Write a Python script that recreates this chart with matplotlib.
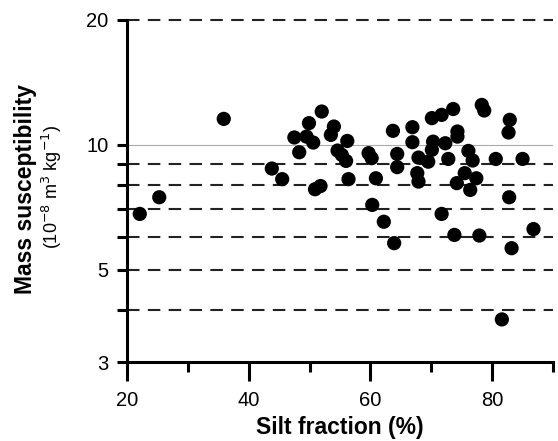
import matplotlib
matplotlib.use("Agg")
import matplotlib.pyplot as plt
from matplotlib.ticker import FixedLocator, NullFormatter

plt.rcParams['font.family'] = ['Liberation Sans', 'DejaVu Sans']

# silt fraction (%) and mass susceptibility (1e-8 m3/kg)
silt = [22.1, 25.3, 35.9, 43.8, 45.5, 47.5, 48.3, 49.9, 49.5, 50.6,
        50.9, 51.8, 52.0, 54.0, 53.5, 56.2, 54.6, 55.3, 56.0, 56.4,
        59.7, 60.2, 60.9, 60.3, 62.2, 63.9, 63.7, 64.4, 64.4, 66.9,
        66.9, 67.9, 67.7, 67.9, 69.5, 70.1, 71.7, 73.6, 70.3, 70.1,
        72.3, 74.3, 74.3, 72.8, 76.1, 76.8, 75.5, 77.4, 74.2, 76.4,
        78.3, 78.7, 80.6, 85.0, 82.9, 82.7, 82.8, 71.7, 73.8, 77.9,
        86.8, 83.2, 81.6]
chi = [6.82, 7.48, 11.55, 8.77, 8.27, 10.42, 9.60, 11.28, 10.47, 10.13,
       7.82, 7.96, 12.03, 11.07, 10.57, 10.22, 9.69, 9.46, 9.15, 8.27,
       9.55, 9.29, 8.31, 7.17, 6.53, 5.80, 10.81, 9.51, 8.84, 11.03,
       10.15, 9.32, 8.55, 8.16, 9.11, 11.60, 11.81, 12.20, 10.18, 9.73,
       10.09, 10.77, 10.47, 9.25, 9.67, 9.17, 8.55, 8.31, 8.09, 7.79,
       12.48, 12.10, 9.25, 9.25, 11.49, 10.71, 7.48, 6.82, 6.07, 6.05,
       6.27, 5.64, 3.80]

dashed_levels = [4, 5, 6, 7, 8, 9, 20]
major_y = [3, 5, 10, 20]
minor_y = [4, 6, 7, 8, 9]
major_x = [20, 40, 60, 80]
minor_x = [30, 50, 70, 90]

fig = plt.figure(figsize=(5.58, 4.41), dpi=100)
ax = fig.add_axes([0.2276, 0.179, 0.7634, 0.776])

for lv in dashed_levels:
    ax.axhline(lv, color='#222222', lw=1.5, ls=(0, (6, 4)), zorder=1, clip_on=False)
ax.axhline(10, color='#aaaaaa', lw=0.8, zorder=1)

ax.scatter(silt, chi, s=105, color='black', edgecolors='none', zorder=3)

ax.set_yscale('log')
ax.set_xlim(20, 90)
ax.set_ylim(3, 20)

ax.yaxis.set_major_locator(FixedLocator(major_y))
ax.yaxis.set_minor_locator(FixedLocator(minor_y))
ax.yaxis.set_major_formatter(matplotlib.ticker.FixedFormatter([str(v) for v in major_y]))
ax.yaxis.set_minor_formatter(NullFormatter())
ax.xaxis.set_major_locator(FixedLocator(major_x))
ax.xaxis.set_minor_locator(FixedLocator(minor_x))

for s in ['top', 'right']:
    ax.spines[s].set_visible(False)
for s in ['left', 'bottom']:
    ax.spines[s].set_linewidth(2.2)

ax.tick_params(axis='y', which='major', length=7.5, width=2.2, labelsize=14.5, pad=6)
ax.tick_params(axis='y', which='minor', length=7, width=2.2)
ax.tick_params(axis='x', which='major', length=14, width=2.2, labelsize=14.5, pad=7)
ax.tick_params(axis='x', which='minor', length=7, width=2.2)

ax.set_xlabel('Silt fraction (%)', fontsize=16.5, fontweight='bold', labelpad=4)
fig.text(0.045, 0.571, 'Mass susceptibility', rotation=90, fontsize=16.5,
         fontweight='bold', ha='center', va='center')
fig.text(0.093, 0.575, r'(10$^{-8}$ m$^{3}$ kg$^{-1}$)', rotation=90, fontsize=13,
         ha='center', va='center')

fig.savefig('out.png', dpi=100)
